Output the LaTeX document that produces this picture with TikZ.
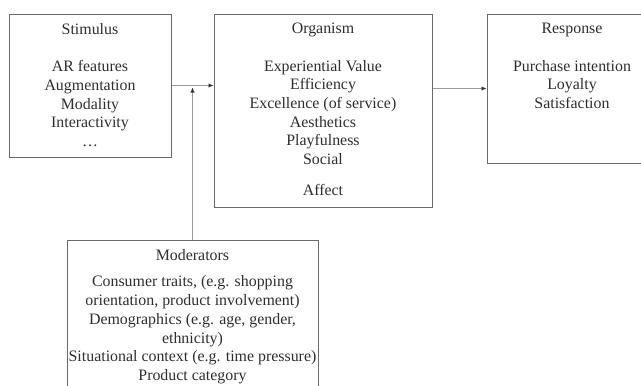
\documentclass[tikz,border=0pt]{standalone}
\usepackage{fontspec}
\setmainfont{Liberation Serif}
\usetikzlibrary{arrows.meta}
\definecolor{boxc}{HTML}{6A6A6A}
\definecolor{linec}{HTML}{9A9A9A}
\definecolor{txtc}{HTML}{2E2E2E}
\begin{document}
\begin{tikzpicture}[x=1pt,y=-1pt,
  box/.style={draw=boxc,line width=1pt,rectangle,inner sep=0pt},
  txt/.style={anchor=north,align=center,inner sep=0pt,text=txtc,font=\fontsize{15.9}{18.7}\selectfont},
  arr/.style={draw=linec,line width=0.9pt,-{Latex[length=5pt,width=4.5pt,color=black!80]}}]
\useasboundingbox (0,0) rectangle (641,386);
\clip (0,0) rectangle (641,386);
\node[box,minimum width=162pt,minimum height=143pt] (stim) at (90,85.5) {};
\node[box,minimum width=218pt,minimum height=193pt] (org) at (323,110.5) {};
\node[box,minimum width=170pt,minimum height=149pt] (resp) at (572,88.5) {};
\node[box,minimum width=251pt,minimum height=160pt] (mod) at (192.5,320) {};
\node[txt] (stimt) at (90,23) {Stimulus\\[18.7pt]AR features\\Augmentation\\Modality\\Interactivity\\\dots};
\node[txt] (orgt) at (323,23) {Organism\\[18.7pt]Experiential Value\\Efficiency\\Excellence (of service)\\Aesthetics\\Playfulness\\Social\\[12.3pt]Affect};
\node[txt] (respt) at (572,23) {Response\\[18.7pt]Purchase intention\\Loyalty\\Satisfaction};
\node[txt] (modt) at (192.5,249) {Moderators\\[8pt]Consumer traits, (e.g. shopping\\orientation, product involvement)\\Demographics (e.g. age, gender,\\ethnicity)\\Situational context (e.g. time pressure)\\Product category};
\coordinate (j) at (192.5,87.5);
\draw[arr] (stim.east) -- (org.west |- stim.east);
\draw[arr] (mod.north) -- (j);
\draw[arr] (org.east |- resp.west) -- (resp.west);
\end{tikzpicture}
\end{document}
